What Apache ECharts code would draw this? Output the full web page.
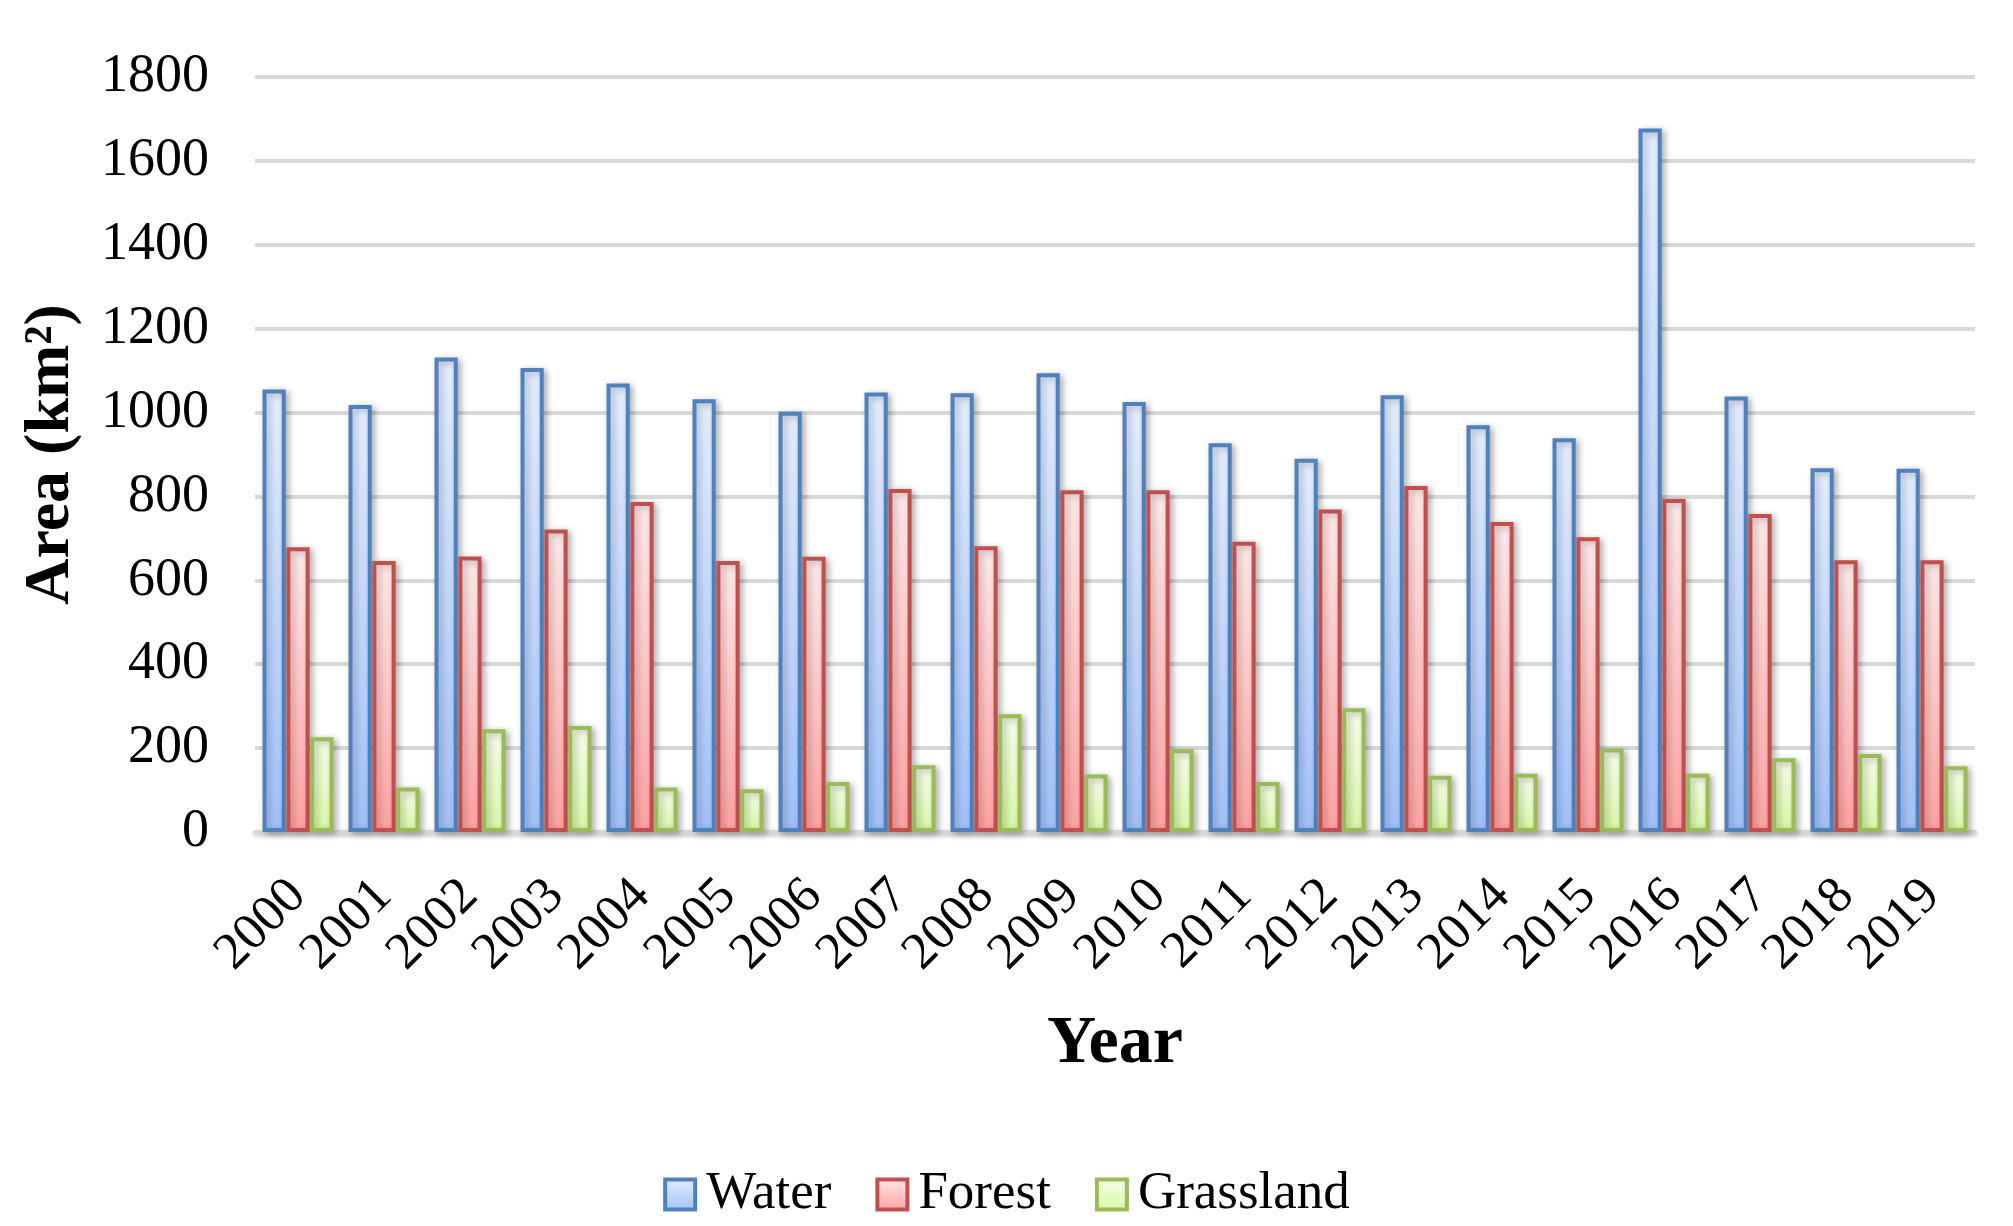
<!DOCTYPE html>
<html>
<head>
<meta charset="utf-8">
<script src="https://cdn.jsdelivr.net/npm/echarts/dist/echarts.min.js"></script>
<style>
html,body{margin:0;padding:0;background:#fff;}
#chart{width:2013px;height:1226px;}
</style>
</head>
<body>
<div id="chart"></div>
<script>
const years = ['2000','2001','2002','2003','2004','2005','2006','2007','2008','2009','2010','2011','2012','2013','2014','2015','2016','2017','2018','2019'];
const water = [1055,1018,1131,1106,1069,1032,1002,1048,1046,1094,1025,927,890,1041,970,939,1677,1038,867,866];
const forest = [679,646,657,721,787,646,656,818,681,815,815,692,769,825,739,703,794,758,648,648];
const grassland = [226,106,245,253,106,102,119,159,281,137,197,119,295,134,139,199,139,176,186,157];
const yTicks = {min:0, max:1800, interval:200};

const FONT = '"Liberation Serif","Times New Roman",serif';
function grad(top, bottom){
  return new echarts.graphic.LinearGradient(0,0,0,1,[{offset:0,color:top},{offset:1,color:bottom}]);
}
function barSeries(name, data, border, top, bottom){
  return {
    name: name, type:'bar', data: data,
    barGap:'3%', barCategoryGap:'17.5%',
    itemStyle:{
      color: grad(top,bottom), borderColor: border, borderWidth: 4,
      shadowColor:'rgba(0,0,0,0.28)', shadowBlur:7, shadowOffsetX:3, shadowOffsetY:2
    },
    emphasis:{disabled:true}
  };
}
const chart = echarts.init(document.getElementById('chart'), null, {renderer:'canvas'});
chart.setOption({
  animation:false,
  backgroundColor:'#ffffff',
  textStyle:{fontFamily:FONT, color:'#000'},
  grid:{left:255, right:38, top:77, bottom:394, containLabel:false},
  legend:{
    top: 1163, left:'center', icon:'rect',
    itemWidth:30, itemHeight:30, itemGap:44,
    itemStyle:{borderWidth:4},
    textStyle:{fontFamily:FONT, fontSize:53, color:'#000', padding:[0,0,0,6]},
    data:['Water','Forest','Grassland']
  },
  xAxis:{
    type:'category', data: years,
    name:'Year', nameLocation:'middle', nameGap:178,
    nameTextStyle:{fontFamily:FONT, fontSize:68, fontWeight:'bold', color:'#000'},
    axisLine:{show:true, lineStyle:{color:'#d9d9d9', width:4, shadowColor:'rgba(0,0,0,0.25)', shadowBlur:4, shadowOffsetY:2}},
    axisTick:{show:false},
    axisLabel:{rotate:45, margin:56, fontFamily:FONT, fontSize:52, color:'#000', interval:0}
  },
  yAxis:{
    type:'value', min:yTicks.min, max:yTicks.max, interval:yTicks.interval,
    name:'Area (km²)', nameLocation:'middle', nameGap:172, nameRotate:90,
    nameTextStyle:{fontFamily:FONT, fontSize:64, fontWeight:'bold', color:'#000'},
    axisLine:{show:false}, axisTick:{show:false},
    axisLabel:{margin:46, fontFamily:FONT, fontSize:54, color:'#000', formatter: v => String(v)},
    splitLine:{lineStyle:{color:'#d9d9d9', width:4}}
  },
  series:[
    barSeries('Water', water, '#4f81bd', '#e4eeff', '#a2c1fa'),
    barSeries('Forest', forest, '#c0504d', '#ffe9e9', '#ffa2a2'),
    barSeries('Grassland', grassland, '#9bbb59', '#f6fdea', '#d9f8a6')
  ]
});
</script>
</body>
</html>
